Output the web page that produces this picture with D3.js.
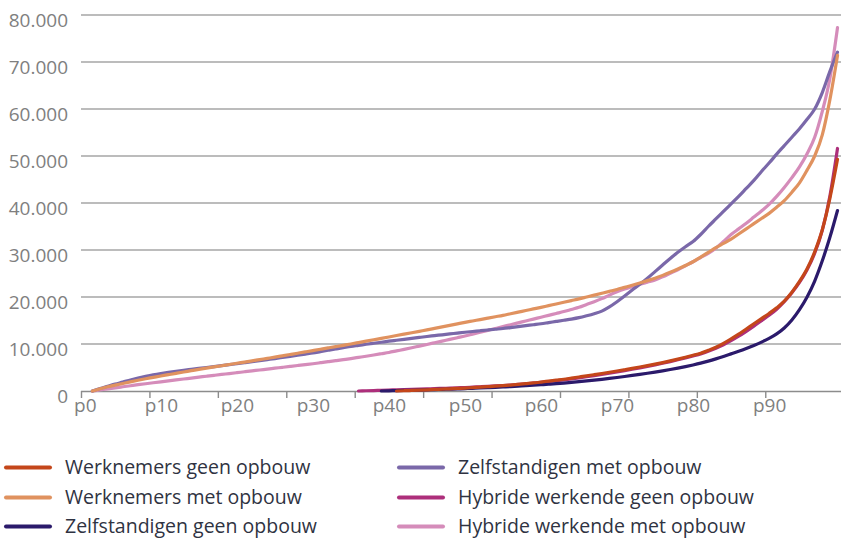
<!DOCTYPE html>
<html>
<head>
<meta charset="utf-8">
<script src="https://cdn.jsdelivr.net/npm/d3@7"></script>
<style>
  html, body { margin: 0; padding: 0; background: #ffffff; }
  svg { display: block; }
</style>
</head>
<body>
<svg id="chart" width="841" height="542"></svg>
<script>
// ---------- DATA ----------
const categories = d3.range(100).map(i => "p" + i);
const xTickLabels = ["p0","p10","p20","p30","p40","p50","p60","p70","p80","p90"];
const yTickValues = [0,10000,20000,30000,40000,50000,60000,70000,80000];

const seriesNames = [
  "Werknemers geen opbouw",
  "Werknemers met opbouw",
  "Zelfstandigen geen opbouw",
  "Zelfstandigen met opbouw",
  "Hybride werkende geen opbouw",
  "Hybride werkende met opbouw"
];
const seriesColors = ["#c4461a","#e0925f","#2b1a6b","#7a68a9","#ad2f7b","#d58cba"];

const N = null;
const werknemersGeen = [
  N,N,N,N,N,N,N,N,N,N, N,N,N,N,N,N,N,N,N,N,
  N,N,N,N,N,N,N,N,N,N, N,N,N,N,N,N,N,N,N,N,
  N,0,60,120,190,260,330,400,470,540,
  620,720,820,920,1020,1140,1270,1410,1560,1710,
  1900,2100,2300,2500,2740,2980,3220,3470,3720,3980,
  4250,4530,4810,5100,5400,5720,6050,6400,6780,7180,
  7600,8050,8650,9320,10150,11100,12100,13200,14300,15400,
  16500,17700,19100,21000,23300,26000,29600,34300,41000,49300
];
const werknemersMet = [
  N,0,480,900,1250,1600,1950,2280,2600,2900,
  3200,3480,3760,4040,4320,4600,4860,5120,5380,5640,
  5900,6160,6420,6680,6940,7200,7480,7760,8040,8320,
  8600,8880,9160,9440,9720,10000,10300,10600,10900,11200,
  11500,11800,12100,12400,12700,13000,13320,13640,13960,14280,
  14600,14900,15200,15500,15800,16100,16440,16780,17120,17460,
  17800,18160,18520,18880,19240,19600,20000,20400,20800,21200,
  21600,22050,22500,22980,23480,24000,24600,25250,25950,26700,
  27500,28500,29500,30500,31400,32300,33400,34500,35600,36700,
  37800,39100,40500,42300,44300,47000,50000,54500,62000,71400
];
const zelfstandigenGeen = [
  N,N,N,N,N,N,N,N,N,N, N,N,N,N,N,N,N,N,N,N,
  N,N,N,N,N,N,N,N,N,N, N,N,N,N,N,N,N,N,N,0,
  40,80,120,160,200,250,300,350,400,450,
  510,570,640,710,780,860,940,1030,1120,1220,
  1330,1440,1560,1690,1830,1980,2140,2310,2490,2680,
  2880,3090,3310,3540,3780,4030,4290,4570,4870,5190,
  5540,5920,6350,6830,7350,7900,8450,9050,9700,10400,
  11200,12150,13400,15100,17300,20000,23400,27700,32700,38400
];
const zelfstandigenMet = [
  N,0,520,1000,1480,1900,2350,2750,3100,3420,
  3700,3950,4180,4400,4600,4800,5000,5200,5400,5600,
  5800,6020,6240,6460,6680,6900,7140,7380,7620,7860,
  8100,8380,8660,8940,9220,9500,9720,9940,10160,10380,
  10600,10800,11000,11200,11400,11600,11780,11960,12140,12320,
  12500,12660,12820,12980,13140,13300,13500,13700,13900,14100,
  14300,14550,14800,15050,15300,15600,16000,16450,17000,17900,
  19000,20200,21500,22700,24000,25400,26800,28200,29500,30700,
  31800,33300,35000,36600,38200,39800,41400,43100,44800,46700,
  48500,50400,52200,54000,55800,57800,60000,63500,68000,72100
];
const hybrideGeen = [
  N,N,N,N,N,N,N,N,N,N, N,N,N,N,N,N,N,N,N,N,
  N,N,N,N,N,N,N,N,N,N, N,N,N,N,N,N,0,50,100,150,
  200,250,300,350,400,450,500,560,620,680,
  740,820,900,980,1070,1170,1280,1400,1530,1670,
  1830,2000,2180,2370,2580,2800,3030,3270,3520,3780,
  4050,4330,4620,4920,5230,5560,5900,6260,6640,7040,
  7460,7900,8450,9100,9850,10700,11650,12700,13800,14950,
  16100,17400,19000,20900,23100,25800,29300,34200,41500,51600
];
const hybrideMet = [
  N,0,230,450,680,900,1120,1340,1550,1750,
  1950,2150,2350,2550,2750,2950,3140,3330,3520,3710,
  3900,4090,4280,4470,4660,4850,5040,5230,5420,5610,
  5800,6020,6240,6460,6680,6900,7150,7400,7660,7930,
  8200,8530,8860,9200,9550,9900,10260,10620,10980,11340,
  11700,12100,12500,12900,13300,13700,14100,14500,14900,15300,
  15700,16100,16500,16900,17350,17800,18400,19000,19650,20400,
  21100,21700,22200,22700,23150,23600,24300,25050,25800,26650,
  27500,28400,29300,30400,31800,33300,34500,35700,37000,38300,
  39700,41400,43300,45400,47700,50500,54000,59500,66500,77300
];
const seriesValues = [werknemersGeen, werknemersMet, zelfstandigenGeen, zelfstandigenMet, hybrideGeen, hybrideMet];

// ---------- LAYOUT ----------
const plotLeft = 81, plotRight = 841.3, plotTop = 15, plotBottom = 391;
const fontFamily = "'Open Sans', 'Noto Sans', sans-serif";
const svg = d3.select("#chart");

const x = d3.scaleLinear().domain([0, categories.length]).range([plotLeft, plotRight]);
const y = d3.scaleLinear().domain([0, 80000]).range([plotBottom, plotTop]);

const nl = d3.formatLocale({decimal: ",", thousands: ".", grouping: [3], currency: ["€", ""]});
const fmt = nl.format(",.0f");

// gridlines
svg.append("g")
  .selectAll("line")
  .data(yTickValues.filter(v => v > 0))
  .join("line")
  .attr("x1", plotLeft).attr("x2", 841)
  .attr("y1", d => y(d)).attr("y2", d => y(d))
  .attr("stroke", "#a6a6a6").attr("stroke-width", 1.6);

// y axis labels
const yAxis = svg.append("g")
  .attr("transform", `translate(${plotLeft},0)`)
  .call(d3.axisLeft(y).tickValues(yTickValues).tickFormat(fmt).tickSize(0).tickPadding(13));
yAxis.select(".domain").remove();
yAxis.selectAll("text")
  .attr("font-family", fontFamily).attr("font-size", 19)
  .attr("fill", "#7f7f7f").attr("dy", "0.6em");

// x axis: ticks every 9 categories at boundaries
const tickPositions = d3.range(0, 91, 9);
const xAxisTicks = svg.append("g")
  .attr("transform", `translate(0,${plotBottom})`)
  .call(d3.axisBottom(x).tickValues(tickPositions).tickFormat("").tickSize(7).tickSizeOuter(0));
xAxisTicks.select(".domain").attr("stroke", "#8c8c8c").attr("stroke-width", 1.6)
  .attr("d", `M${plotLeft},0.5H841`);
xAxisTicks.selectAll(".tick line").attr("stroke", "#8c8c8c").attr("stroke-width", 1.4);

// x labels at category centers
const labelPositions = xTickLabels.map(l => categories.indexOf(l) + 0.5);
const xAxisLabels = svg.append("g")
  .attr("transform", `translate(0,${plotBottom})`)
  .call(d3.axisBottom(x).tickValues(labelPositions)
    .tickFormat(d => categories[Math.floor(d)]).tickSize(0).tickPadding(8));
xAxisLabels.select(".domain").remove();
xAxisLabels.selectAll("text")
  .attr("font-family", fontFamily).attr("font-size", 19).attr("fill", "#7f7f7f");

// lines (drawn last-legend-first so first series ends on top)
const line = d3.line()
  .defined(d => d != null)
  .x((d, i) => x(i + 0.5))
  .y(d => y(d))
  .curve(d3.curveMonotoneX);

const order = [5, 4, 3, 2, 1, 0];
svg.append("g")
  .selectAll("path")
  .data(order)
  .join("path")
  .attr("d", k => line(seriesValues[k]))
  .attr("fill", "none")
  .attr("stroke", k => seriesColors[k])
  .attr("stroke-width", 3.2)
  .attr("stroke-linejoin", "round")
  .attr("stroke-linecap", "round");

// legend
const legendCols = [{lx: 6, tx: 65}, {lx: 399, tx: 458}];
const legendRows = [467.5, 497.5, 526.5];
const legend = svg.append("g");
seriesNames.forEach((name, i) => {
  const col = legendCols[Math.floor(i / 3)];
  const ry = legendRows[i % 3];
  legend.append("line")
    .attr("x1", col.lx).attr("x2", col.lx + 44)
    .attr("y1", ry).attr("y2", ry)
    .attr("stroke", seriesColors[i]).attr("stroke-width", 4)
    .attr("stroke-linecap", "round");
  legend.append("text")
    .attr("x", col.tx).attr("y", ry).attr("dy", "0.35em")
    .attr("font-family", fontFamily).attr("font-size", 19.5)
    .attr("fill", "#2f3342")
    .text(name);
});
</script>
</body>
</html>
